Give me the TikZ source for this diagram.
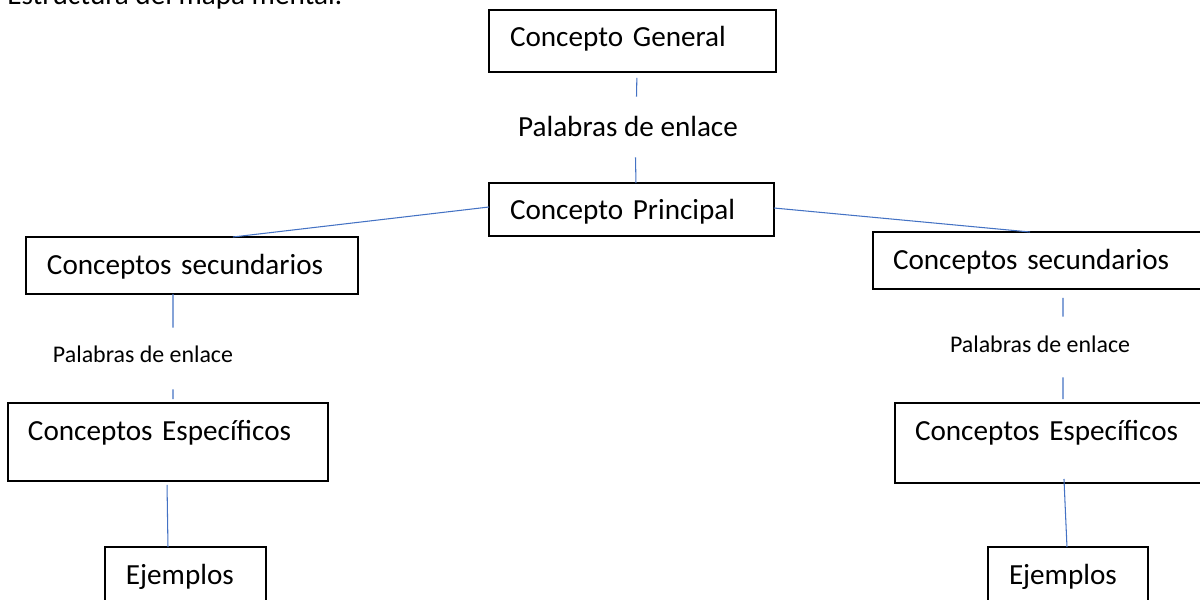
\documentclass[tikz,border=0pt]{standalone}
\usepackage{fontspec}
\setmainfont{Carlito}
\usetikzlibrary{positioning}
\definecolor{linkColor}{HTML}{4472C4}
\begin{document}
\begin{tikzpicture}[x=0.02cm,y=-0.02cm]

          \tikzstyle{conceptBox} = [draw,line width=1.1pt,anchor=north west,inner xsep=0.42cm,inner ysep=0pt,outer sep=0pt,align=left,font=\fontsize{16.6}{20}\selectfont];
          \tikzstyle{linkWords} = [inner sep=0pt,anchor=base,font=\fontsize{16.6}{20}\selectfont];
          \tikzstyle{linkWordsSmall} = [inner sep=0pt,anchor=base,font=\fontsize{13.6}{16}\selectfont];
          \tikzstyle{link} = [linkColor,line width=0.6pt];

          \useasboundingbox (0,0) rectangle (1200,599);
          \clip (0,0) rectangle (1200,599);
          \fill[white] (0,0) rectangle (1200,599);

          \node[inner sep=0pt,anchor=base west,font=\fontsize{16.6}{20}\selectfont] (title) at (7,4) {Estructura del mapa mental:};

          \node[conceptBox,text width=4.9cm,text height=0.74cm,text depth=0.50cm] (gen) at (489,10) {Concepto General};
          \node[linkWords,text height=0.78cm,text depth=0.42cm] (pal) at (628,136) {Palabras de enlace};
          \node[conceptBox,text width=4.86cm,text height=0.74cm,text depth=0.32cm] (prin) at (489,183) {Concepto Principal};

          \node[conceptBox,text width=5.8cm,text height=0.76cm,text depth=0.38cm] (secL) at (26,237) {Conceptos secundarios};
          \node[linkWordsSmall,text height=0.68cm,text depth=0.54cm] (palL) at (143,362) {Palabras de enlace};
          \node[conceptBox,inner xsep=0.4cm,text width=5.6cm,text height=0.74cm,text depth=0.82cm] (espL) at (8,403) {Conceptos Específicos};
          \node[conceptBox,text width=2.38cm,text height=0.74cm,text depth=0.52cm] (ejeL) at (105,547) {Ejemplos};

          \node[conceptBox,inner xsep=0.4cm,text width=6.04cm,text height=0.76cm,text depth=0.38cm] (secR) at (873,232) {Conceptos secundarios};
          \node[linkWordsSmall,text height=0.70cm,text depth=0.50cm] (palR) at (1040,352) {Palabras de enlace};
          \node[conceptBox,inner xsep=0.4cm,text width=5.6cm,text height=0.74cm,text depth=0.86cm] (espR) at (895,403) {Conceptos Específicos};
          \node[conceptBox,text width=2.36cm,text height=0.74cm,text depth=0.52cm] (ejeR) at (988,547) {Ejemplos};

          \draw[link,shorten <=0.12cm] ([xshift=0.09cm]gen.south) -- ([xshift=0.17cm]pal.north);
          \draw[link] ([xshift=0.15cm]pal.south) -- ([xshift=0.09cm]prin.north);
          \draw[link] ([yshift=0.05cm]prin.west) -- ([xshift=0.82cm]secL.north);
          \draw[link] ([yshift=0.03cm]prin.east) -- ([xshift=-0.28cm]secR.north);

          \draw[link] ([xshift=-0.38cm]secL.south) -- ([xshift=0.6cm]palL.north);
          \draw[link,shorten >=0.08cm] ([xshift=0.6cm]palL.south) -- ([xshift=0.1cm]espL.north);
          \draw[link,shorten <=0.08cm] ([xshift=-0.02cm]espL.south) -- ([xshift=-0.35cm]ejeL.north);

          \draw[link,shorten <=0.18cm] ([xshift=0.38cm]secR.south) -- ([xshift=0.46cm]palR.north);
          \draw[link,shorten >=0.08cm] ([xshift=0.46cm]palR.south) -- ([xshift=0.16cm]espR.north);
          \draw[link] ([xshift=0.18cm,yshift=0.08cm]espR.south) -- ([xshift=-0.02cm]ejeR.north);
        \end{tikzpicture}
\end{document}
